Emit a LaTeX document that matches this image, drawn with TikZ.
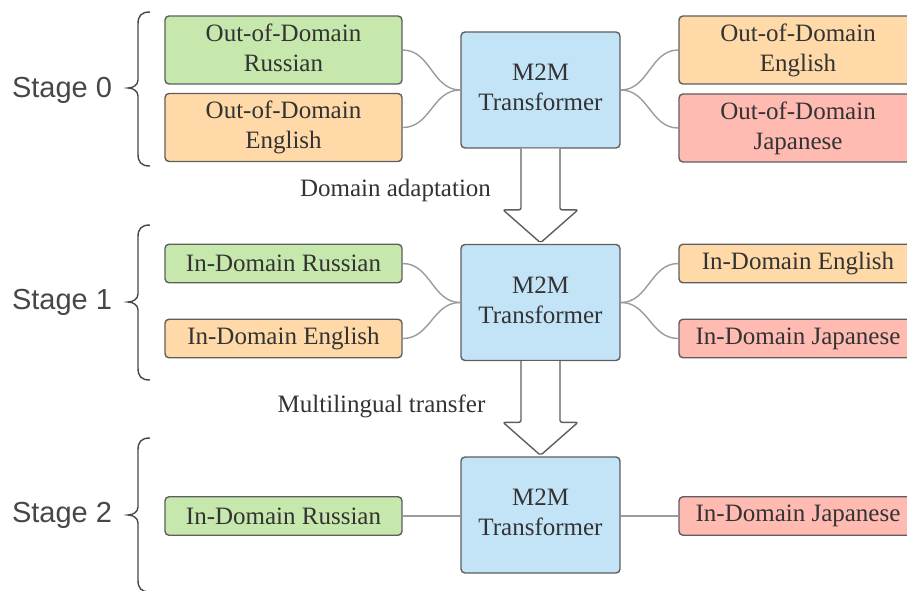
\documentclass[tikz,border=0pt]{standalone}
\usepackage{fontspec}
\setmainfont{Liberation Serif}
\newfontfamily\stagefont{Liberation Sans}
\usetikzlibrary{calc}

\definecolor{edgegray}{HTML}{5E5E5E}
\definecolor{linkgray}{HTML}{9B9B9B}
\definecolor{inkgray}{HTML}{333333}
\definecolor{stagegray}{HTML}{474747}
\definecolor{ruGreen}{HTML}{C6E8AD}
\definecolor{enOrange}{HTML}{FFDAA8}
\definecolor{jaPink}{HTML}{FFBAB2}
\definecolor{modelBlue}{HTML}{C2E4F6}

% curly brace opening to the right, tip pointing left
\newcommand\stagebrace[3]{%
  \draw[bracestyle] (150,#1) .. controls (141,#1) and (138,#1+4) .. (138,#1+12)
    -- (138,#2-8) .. controls (138,#2-3) and (133,#2) .. (128,#2)
    .. controls (133,#2) and (138,#2+3) .. (138,#2+8)
    -- (138,#3-12) .. controls (138,#3-4) and (141,#3) .. (150,#3);}

\begin{document}
\begin{tikzpicture}[x=1pt,y=-1pt,
  langbox/.style={draw=edgegray, line width=1.4pt, rounded corners=4pt,
    inner sep=0pt, align=center, text=inkgray,
    font=\fontsize{25}{30}\selectfont},
  widebox/.style={langbox, minimum width=237pt, minimum height=68pt},
  slimbox/.style={langbox, minimum width=237pt, minimum height=38.5pt},
  edgebox/.style={langbox, minimum width=238pt},
  model/.style={langbox, fill=modelBlue, minimum width=159pt, minimum height=116pt},
  conn/.style={draw=linkgray, line width=1.4pt},
  bracestyle/.style={draw=stagegray, line width=1.4pt},
  stagelabel/.style={anchor=base, text=stagegray, font=\stagefont\fontsize{29}{35}\selectfont},
  steplabel/.style={anchor=base, text=inkgray, font=\fontsize{25}{30}\selectfont},
  blockarrow/.style={draw=edgegray, fill=white, line width=1.4pt, rounded corners=2pt, line join=round},
]
\useasboundingbox (0,0) rectangle (907,590);
\clip (0,0) rectangle (907,590);

% ---------------- Stage 0 ----------------
\node[stagelabel] (s0) at (62,97) {Stage 0};
\stagebrace{12}{88}{166}
\node[widebox, fill=ruGreen]  (L0a) at (283.5,50)  {Out-of-Domain\\Russian\vphantom{g}};
\node[widebox, fill=enOrange] (L0b) at (283.5,127.5) {Out-of-Domain\\English};
\node[model] (M0) at (540.5,90) {M2M\\Transformer\vphantom{g}};
\node[edgebox, fill=enOrange, minimum height=68pt] (R0a) at (798,50)  {Out-of-Domain\\English};
\node[edgebox, fill=jaPink,   minimum height=68pt] (R0b) at (798,128) {Out-of-Domain\\Japanese};

\draw[conn] (L0a.east) .. controls +(28,0) and +(-28,0) .. (M0.west);
\draw[conn] (L0b.east) .. controls +(28,0) and +(-28,0) .. (M0.west);
\draw[conn] (M0.east) .. controls +(28,0) and +(-28,0) .. (R0a.west);
\draw[conn] (M0.east) .. controls +(28,0) and +(-28,0) .. (R0b.west);

% ---------------- Stage 1 ----------------
\node[stagelabel] (s1) at (62,309) {Stage 1};
\stagebrace{225}{302}{380}
\node[slimbox, fill=ruGreen]  (L1a) at (283.5,263.5) {In-Domain Russian};
\node[slimbox, fill=enOrange] (L1b) at (283.5,338.5) {In-Domain English};
\node[model] (M1) at (540.5,302.5) {M2M\\Transformer\vphantom{g}};
\node[edgebox, fill=enOrange, minimum height=38.5pt] (R1a) at (798,263.5) {In-Domain English};
\node[edgebox, fill=jaPink,   minimum height=38.5pt] (R1b) at (798,338.5) {In-Domain Japanese};

\draw[conn] (L1a.east) .. controls +(28,0) and +(-28,0) .. (M1.west);
\draw[conn] (L1b.east) .. controls +(28,0) and +(-28,0) .. (M1.west);
\draw[conn] (M1.east) .. controls +(28,0) and +(-28,0) .. (R1a.west);
\draw[conn] (M1.east) .. controls +(28,0) and +(-28,0) .. (R1b.west);

% ---------------- Stage 2 ----------------
\node[stagelabel] (s2) at (62,522) {Stage 2};
\stagebrace{438}{515}{592}
\node[slimbox, fill=ruGreen] (L2) at (283.5,516) {In-Domain Russian};
\node[model] (M2) at (540.5,515) {M2M\\Transformer\vphantom{g}};
\node[edgebox, fill=jaPink, minimum height=38.5pt] (R2) at (798,516) {In-Domain Japanese};

\draw[conn] (L2.east) -- (L2.east -| M2.west);
\draw[conn] (R2.west) -- (R2.west -| M2.east);

% ---------------- block arrows between stages ----------------
\filldraw[blockarrow] ($(M0.south)+(-19.5,0)$) -- ($(M1.north)+(-19.5,-34)$)
  -- ($(M1.north)+(-37.5,-34)$) -- ($(M1.north)+(0,-1)$)
  -- ($(M1.north)+(37.5,-34)$) -- ($(M1.north)+(19.5,-34)$)
  -- ($(M0.south)+(19.5,0)$);
\filldraw[blockarrow] ($(M1.south)+(-19.5,0)$) -- ($(M2.north)+(-19.5,-34)$)
  -- ($(M2.north)+(-37.5,-34)$) -- ($(M2.north)+(0,-1)$)
  -- ($(M2.north)+(37.5,-34)$) -- ($(M2.north)+(19.5,-34)$)
  -- ($(M1.south)+(19.5,0)$);

\node[steplabel] (da) at (395.5,196) {Domain adaptation};
\node[steplabel] (mt) at (381.5,412) {Multilingual transfer};
\end{tikzpicture}
\end{document}
